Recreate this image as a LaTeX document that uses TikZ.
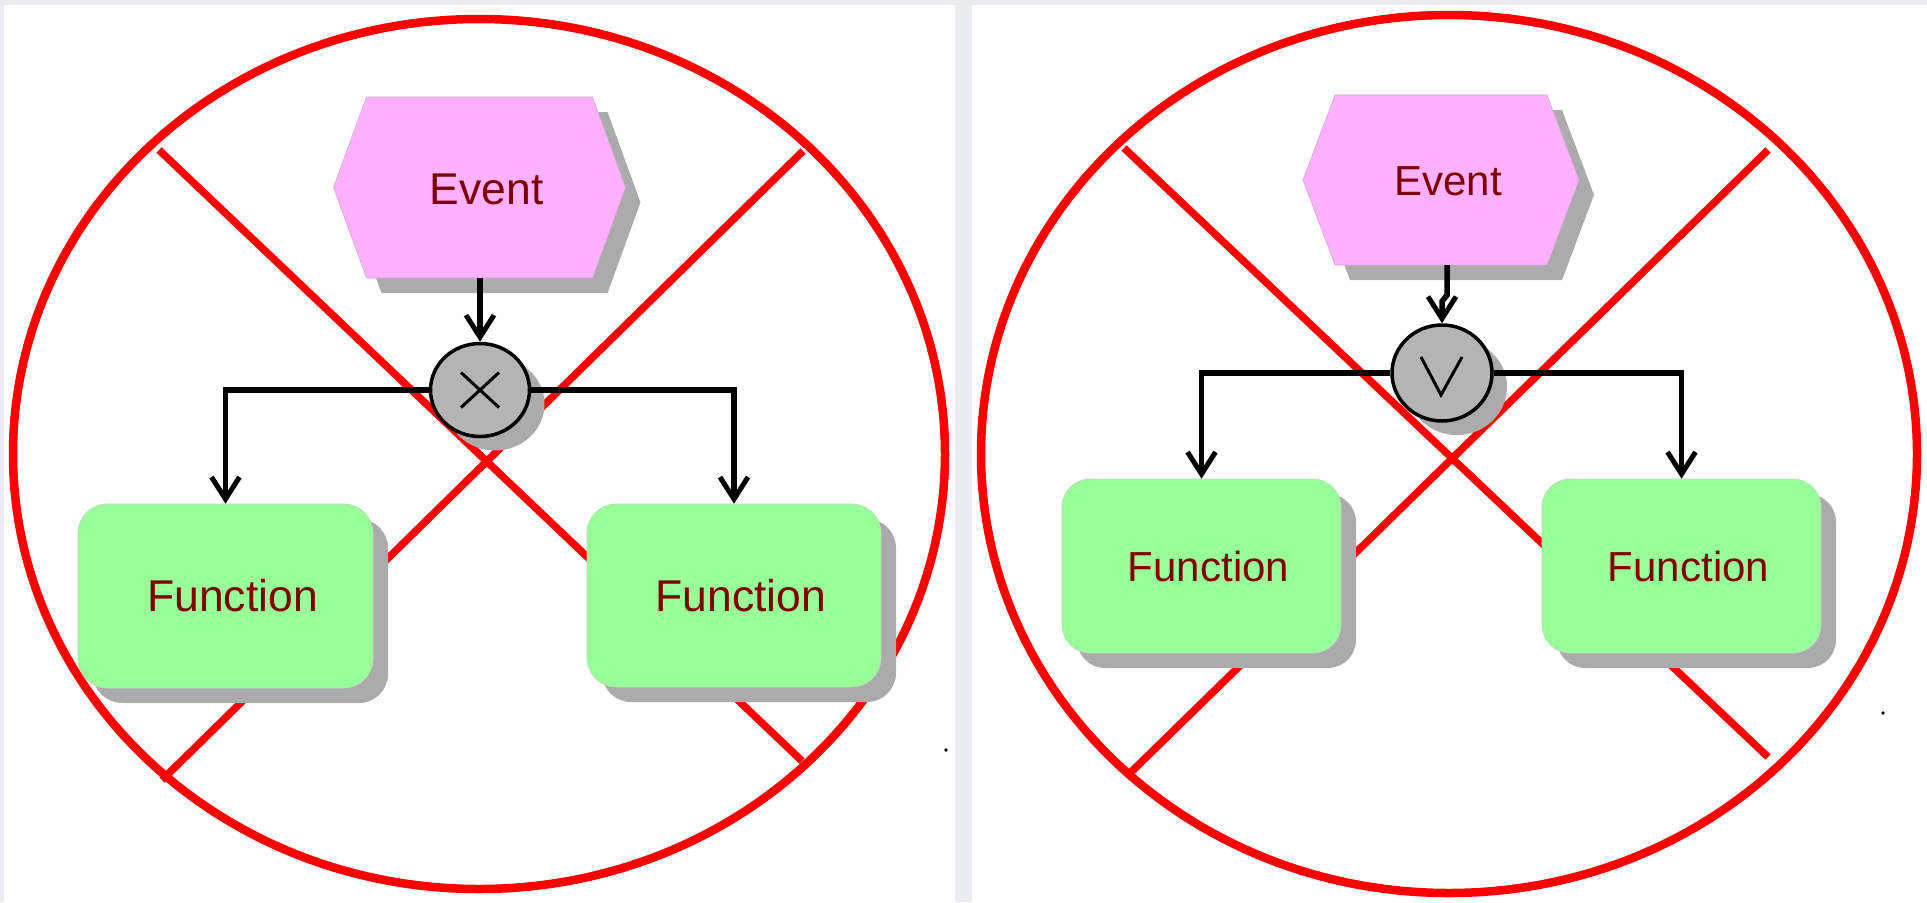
\documentclass[tikz,border=0pt]{standalone}
\usepackage{fontspec}
\setmainfont{Liberation Sans}
\usetikzlibrary{arrows.meta,shapes.geometric,shadows,calc}

\definecolor{page}{HTML}{EBECF0}
\definecolor{evfill}{HTML}{FFB0FF}
\definecolor{evline}{HTML}{D6A6D6}
\definecolor{fnfill}{HTML}{98FF98}
\definecolor{fnline}{HTML}{BCD8BC}
\definecolor{gwfill}{HTML}{B4B4B4}
\definecolor{shadowgrey}{HTML}{ABABAB}
\definecolor{label}{HTML}{800000}
\definecolor{cross}{HTML}{FF0000}

\pgfdeclarelayer{marks}
\pgfdeclarelayer{plates}
\pgfsetlayers{marks,plates,main}

\tikzset{
  % labels sit a little right of the shape centre
  nudged/.style={execute at begin node={\hspace*{14pt}}},
  eventnode/.style={rectangle, inner sep=0pt, text=label, nudged},
  funcbox/.style={rectangle, rounded corners=29pt, fill=fnfill, draw=fnline,
    line width=0.6pt, text=label, inner sep=0pt, nudged,
    drop shadow={shadow xshift=15pt, shadow yshift=-15pt, fill=shadowgrey, opacity=1}},
  gate/.style={ellipse, fill=gwfill, draw=black, line width=3.5pt, inner sep=0pt,
    drop shadow={shadow xshift=15pt, shadow yshift=-14pt, fill=shadowgrey, opacity=1}},
  flow/.style={line width=5.5pt, -{Straight Barb[length=22pt,width=28pt,line width=5pt]}},
  sym/.style={line width=3pt},
  strike/.style={draw=cross, line width=7.5pt},
  ring/.style={draw=cross, line width=8.5pt},
  bigtext/.style={font=\fontsize{44.5}{50}\selectfont},
  smalltext/.style={font=\fontsize{42}{48}\selectfont},
}

% hexagonal event plate with its shadow: centre x, centre y, half width, half height, indent
\newcommand\eventplate[5]{%
  \begin{pgfonlayer}{plates}
    \fill[shadowgrey] (#1-#3+#5+15,#2-#4+15) -- (#1+#3-#5+15,#2-#4+15) -- (#1+#3+15,#2+15)
      -- (#1+#3-#5+15,#2+#4+15) -- (#1-#3+#5+15,#2+#4+15) -- (#1-#3+15,#2+15) -- cycle;
    \filldraw[fill=evfill, draw=evline, line width=0.6pt]
      (#1-#3+#5,#2-#4) -- (#1+#3-#5,#2-#4) -- (#1+#3,#2)
      -- (#1+#3-#5,#2+#4) -- (#1-#3+#5,#2+#4) -- (#1-#3,#2) -- cycle;
  \end{pgfonlayer}}

\begin{document}
\begin{tikzpicture}[x=1pt, y=-1pt]
  \useasboundingbox (0,0) rectangle (1927,902);

  \begin{pgfonlayer}{marks}
    % page and the two white panels
    \fill[page] (0,0) rectangle (1927,902);
    \fill[white] (4,5) rectangle (955,902);
    \fill[white] (972,5) rectangle (1927,902);
    % crossed-out rings
    \draw[ring] (479,454) ellipse [x radius=466pt, y radius=435pt];
    \draw[strike] (159,150) -- (802,761);
    \draw[strike] (803,151) -- (162,780);
    \draw[ring] (1449,454) ellipse [x radius=468pt, y radius=439pt];
    \draw[strike] (1124,148) -- (1768,757);
    \draw[strike] (1768,150) -- (1126,777);
    % stray dots
    \fill[black] (946,750) circle (1.8pt);
    \fill[black] (1883,713) circle (1.8pt);
  \end{pgfonlayer}

  % ---------- left: XOR split ----------
  \eventplate{479.5}{187.5}{146}{90.5}{33}
  \node[eventnode, bigtext, minimum width=292pt, minimum height=181pt] (ev1) at (479.5,189.5) {Event};
  \node[gate, minimum width=99pt, minimum height=93pt] (gw1) at (480,390) {};
  \node[funcbox, bigtext, minimum width=295pt, minimum height=184pt] (fn1l) at (225.5,596) {Function};
  \node[funcbox, bigtext, minimum width=294pt, minimum height=183pt] (fn1r) at (734,595.5) {Function};

  \draw[sym] ($(gw1.center)+(-19,-17.5)$) -- ($(gw1.center)+(19,17.5)$);
  \draw[sym] ($(gw1.center)+(19,-17.5)$) -- ($(gw1.center)+(-19,17.5)$);

  \draw[flow] ([yshift=2pt]ev1.south -| gw1.north) -- (gw1.north);
  \draw[flow] (gw1.west) -| (fn1l.north);
  \draw[flow] (gw1.east) -| (fn1r.north);

  % ---------- right: OR split ----------
  \eventplate{1441}{180}{138}{85}{32}
  \node[eventnode, smalltext, minimum width=276pt, minimum height=170pt] (ev2) at (1441,181) {Event};
  \node[gate, minimum width=100pt, minimum height=96pt] (gw2) at (1442,373) {};
  \node[funcbox, smalltext, rounded corners=28pt, minimum width=279pt, minimum height=174pt] (fn2l) at (1201.5,566) {Function};
  \node[funcbox, smalltext, rounded corners=28pt, minimum width=279pt, minimum height=174pt] (fn2r) at (1681.5,566) {Function};

  \draw[sym, line join=miter] ($(gw2.center)+(-21,-16)$) -- ($(gw2.center)+(-1,22)$) -- ($(gw2.center)+(20,-16)$);

  \draw[flow] ([xshift=6pt,yshift=1pt]ev2.south) -- ++(0,30) -- ([yshift=22pt]gw2.north) -- (gw2.north);
  \draw[flow] (gw2.west) -| (fn2l.north);
  \draw[flow] (gw2.east) -| (fn2r.north);
\end{tikzpicture}
\end{document}
